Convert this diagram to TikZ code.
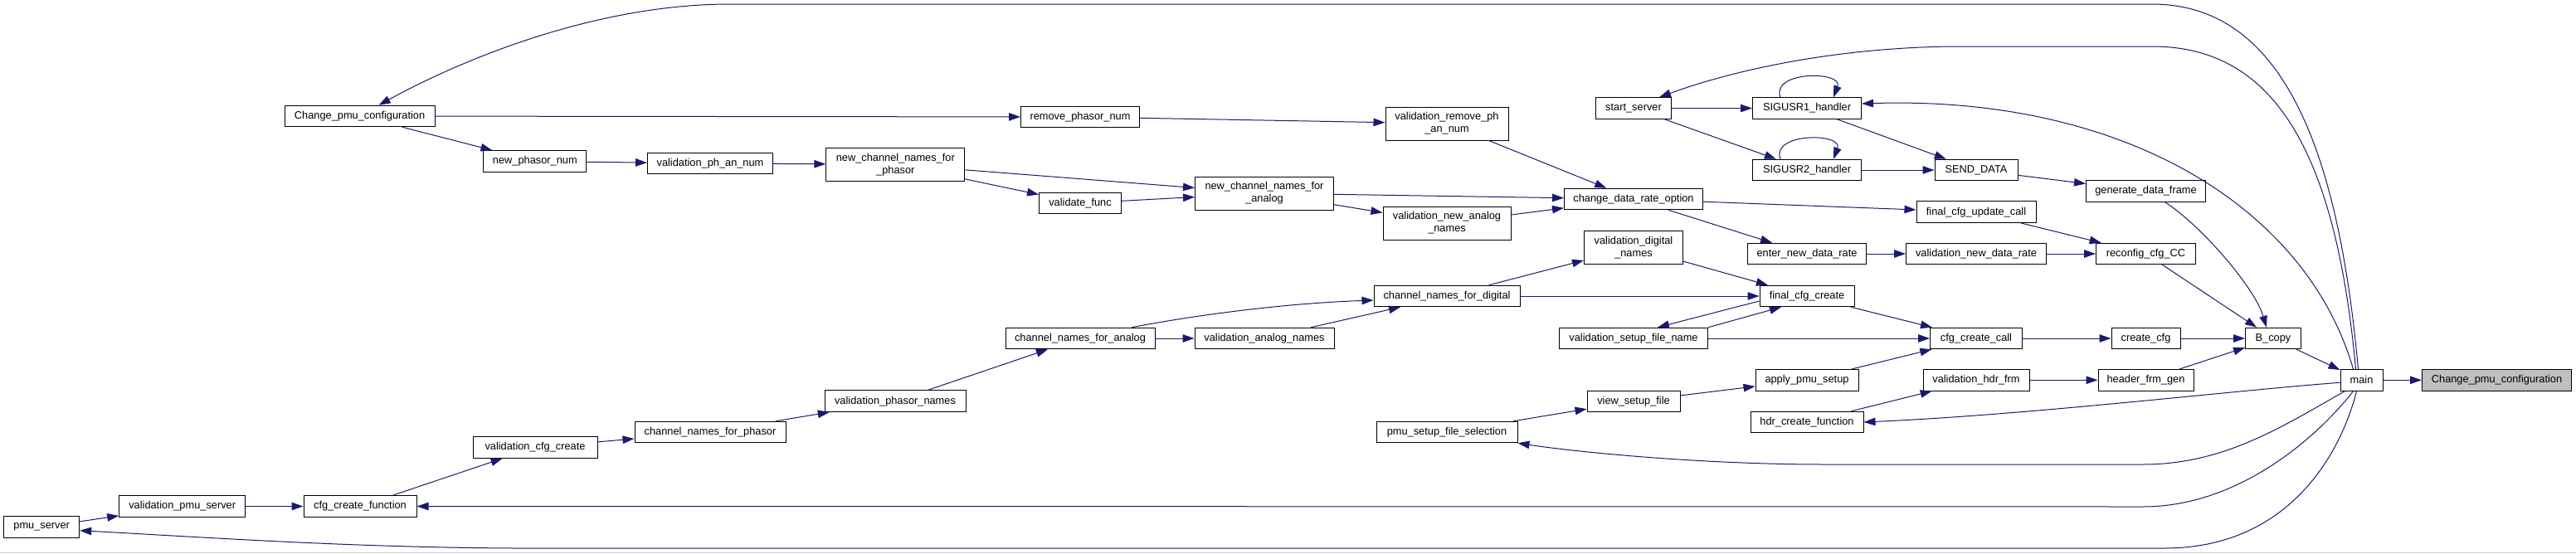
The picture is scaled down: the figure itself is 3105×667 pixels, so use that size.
\documentclass[tikz,border=0pt]{standalone}
\usepackage{fontspec}
\setmainfont{Liberation Sans}
\usepackage{xcolor}
\usepackage{tikz}
\usetikzlibrary{arrows.meta, positioning, calc}

\definecolor{edgeblue}{HTML}{191970}
\definecolor{targetgray}{HTML}{BFBFBF}
\newcommand\fnfont{\fontsize{12.8}{15}\selectfont}

\begin{document}
\begin{tikzpicture}[
    x=1pt, y=-1pt,
    fnbox/.style={rectangle, draw=black, line width=1pt, fill=white,
                  inner sep=0pt, minimum height=25.5pt, font=\fnfont, align=center},
    fnboxtwo/.style={fnbox, minimum height=40pt},
    callarr/.style={draw=edgeblue, line width=1pt, -{Triangle[length=14pt,width=9.5pt]}},
]
\useasboundingbox (0,0) rectangle (3105,667);

% right part: main and the target
\node[fnbox, minimum width=51pt] (main) at (2846.5,458.3) {main};
\node[fnbox, minimum width=180pt, fill=targetgray] (target) at (3009.5,458.3) {Change\_pmu\_configuration};
\node[fnbox, minimum width=67pt] (bcopy) at (2740,408) {B\_copy};

\node[fnbox, minimum width=144pt] (genframe) at (2586.5,230.5) {generate\_data\_frame};
\node[fnbox, minimum width=120pt] (reconfig) at (2586.5,306) {reconfig\_cfg\_CC};
\node[fnbox, minimum width=83pt] (createcfg) at (2586.5,408) {create\_cfg};
\node[fnbox, minimum width=115pt] (hdrgen) at (2586.5,458.3) {header\_frm\_gen};

\node[fnbox, minimum width=100pt] (senddata) at (2382,205) {SEND\_DATA};
\node[fnbox, minimum width=144pt] (cfgupdate) at (2382,255.7) {final\_cfg\_update\_call};
\node[fnbox, minimum width=169pt] (valnewrate) at (2382,306) {validation\_new\_data\_rate};
\node[fnbox, minimum width=111pt] (createcall) at (2382,408) {cfg\_create\_call};
\node[fnbox, minimum width=128pt] (valhdr) at (2382,458.3) {validation\_hdr\_frm};

\node[fnbox, minimum width=131pt] (sigone) at (2178,130.5) {SIGUSR1\_handler};
\node[fnbox, minimum width=131pt] (sigtwo) at (2178,205) {SIGUSR2\_handler};
\node[fnbox, minimum width=143pt] (enterrate) at (2178,306) {enter\_new\_data\_rate};
\node[fnbox, minimum width=114pt] (finalcreate) at (2178,357) {final\_cfg\_create};
\node[fnbox, minimum width=124pt] (applysetup) at (2178,458.3) {apply\_pmu\_setup};
\node[fnbox, minimum width=136pt] (hdrfunc) at (2178,509) {hdr\_create\_function};

\node[fnbox, minimum width=91pt] (startserver) at (1969,130.5) {start\_server};
\node[fnbox, minimum width=167pt] (changerate) at (1969,240) {change\_data\_rate\_option};
\node[fnboxtwo, minimum width=119pt] (valdigital) at (1969,298.3) {validation\_digital\\\_names};
\node[fnbox, minimum width=179pt] (valsetup) at (1969,408) {validation\_setup\_file\_name};
\node[fnbox, minimum width=112pt] (viewsetup) at (1969,483.8) {view\_setup\_file};

\node[fnboxtwo, minimum width=148pt] (valremove) at (1744,149) {validation\_remove\_ph\\\_an\_num};
\node[fnboxtwo, minimum width=154pt] (valnewanalog) at (1744,269) {validation\_new\_analog\\\_names};
\node[fnbox, minimum width=176pt] (chdigital) at (1744,357) {channel\_names\_for\_digital};
\node[fnbox, minimum width=170pt] (setupsel) at (1744,521) {pmu\_setup\_file\_selection};

\node[fnboxtwo, minimum width=167pt] (newchanalog) at (1524,233) {new\_channel\_names\_for\\\_analog};
\node[fnbox, minimum width=168pt] (valanalog) at (1524,408) {validation\_analog\_names};

\node[fnbox, minimum width=143pt] (removephasor) at (1302,141) {remove\_phasor\_num};
\node[fnbox, minimum width=99pt] (validatefunc) at (1302,245) {validate\_func};
\node[fnbox, minimum width=180pt] (chanalog) at (1302,408) {channel\_names\_for\_analog};

\node[fnboxtwo, minimum width=167pt] (newchphasor) at (1079.3,198.3) {new\_channel\_names\_for\\\_phasor};
\node[fnbox, minimum width=170pt] (valphnames) at (1079,483.7) {validation\_phasor\_names};

\node[fnbox, minimum width=151pt] (valphan) at (856,197) {validation\_ph\_an\_num};
\node[fnbox, minimum width=182pt] (chphasor) at (856,521) {channel\_names\_for\_phasor};

\node[fnbox, minimum width=124pt] (newphasor) at (644.8,194.5) {new\_phasor\_num};
\node[fnbox, minimum width=150pt] (valcfg) at (645,539.5) {validation\_cfg\_create};

\node[fnbox, minimum width=181pt] (changecfg) at (433.6,140) {Change\_pmu\_configuration};
\node[fnbox, minimum width=136pt] (cfgfunc) at (434,610.5) {cfg\_create\_function};
\node[fnbox, minimum width=152pt] (valpmu) at (219.7,610.5) {validation\_pmu\_server};
\node[fnbox, minimum width=91pt] (pmuserver) at (50.2,635.7) {pmu\_server};

% straight calls
\draw[callarr] (main) -- (target);
\draw[callarr] (bcopy) -- (main);
\draw[callarr] (reconfig) -- (bcopy);
\draw[callarr] (createcfg) -- (bcopy);
\draw[callarr] (hdrgen) -- (bcopy);
\draw[callarr] (createcall) -- (createcfg);
\draw[callarr] (valhdr) -- (hdrgen);
\draw[callarr] (hdrfunc) -- (valhdr);
\draw[callarr] (finalcreate) -- (createcall);
\draw[callarr] (valsetup) -- (createcall);
\draw[callarr] (applysetup) -- (createcall);
\draw[callarr] (viewsetup) -- (applysetup);
\draw[callarr] (setupsel) -- (viewsetup);
\draw[callarr] (enterrate) -- (valnewrate);
\draw[callarr] (valnewrate) -- (reconfig);
\draw[callarr] (cfgupdate) -- (reconfig);
\draw[callarr] (changerate) -- (cfgupdate);
\draw[callarr] (changerate) -- (enterrate);
\draw[callarr] (senddata) -- (genframe);
\draw[callarr] (sigone) -- (senddata);
\draw[callarr] (sigtwo) -- (senddata);
\draw[callarr] (startserver) -- (sigone);
\draw[callarr] (startserver) -- (sigtwo);
\draw[callarr] (valremove) -- (changerate);
\draw[callarr] (newchanalog) -- (changerate);
\draw[callarr] (newchanalog) -- (valnewanalog);
\draw[callarr] (valnewanalog) -- (changerate);
\draw[callarr] (removephasor) -- (valremove);
\draw[callarr] (changecfg) -- (removephasor);
\draw[callarr] (changecfg) -- (newphasor);
\draw[callarr] (newphasor) -- (valphan);
\draw[callarr] (valphan) -- (newchphasor);
\draw[callarr] (newchphasor) -- (newchanalog);
\draw[callarr] (newchphasor) -- (validatefunc);
\draw[callarr] (validatefunc) -- (newchanalog);
\draw[callarr] (chdigital) -- (valdigital);
\draw[callarr] (valdigital) -- (finalcreate);
\draw[callarr] (chdigital) -- (finalcreate);
\draw[callarr] ([yshift=-6pt]finalcreate.west) -- ([xshift=29pt]valsetup.north);
\draw[callarr] (valsetup.north east) -- ([xshift=-31pt]finalcreate.south);
\draw[callarr] (chanalog) -- (valanalog);
\draw[callarr] ([xshift=56pt]valanalog.north) -- ([xshift=-56pt]chdigital.south);
\draw[callarr] (valphnames) -- (chanalog);
\draw[callarr] (chphasor) -- (valphnames);
\draw[callarr] (valcfg) -- (chphasor);
\draw[callarr] (cfgfunc) -- (valcfg);
\draw[callarr] (valpmu) -- (cfgfunc);
\draw[callarr] (pmuserver) -- (valpmu);

% curved calls
\draw[callarr] ([xshift=23pt]genframe.south) .. controls +(40,25) and +(-15,-50) .. ([xshift=-8pt]bcopy.north);
\draw[callarr] ([xshift=62pt]chanalog.north) .. controls (1430,382) and (1540,366) .. ([yshift=-5pt]chdigital.west);
\draw[callarr] ([xshift=-32pt]sigone.north) .. controls +(-12,-32) and +(12,-32) .. ([xshift=32pt]sigone.north);
\draw[callarr] ([xshift=-32pt]sigtwo.north) .. controls +(-12,-32) and +(12,-32) .. ([xshift=32pt]sigtwo.north);

% calls from main round the outside
\draw[callarr] ([xshift=-4pt]main.north) .. controls (2820,200) and (2760,5) .. (2594,5)
    -- (880,5) .. controls (720,5) and (560,70) .. ([xshift=23pt]changecfg.north);
\draw[callarr] ([xshift=-7pt]main.north) .. controls (2815,180) and (2740,56) .. (2594,56)
    -- (2353,56) .. controls (2200,58) and (2080,88) .. ([xshift=31pt]startserver.north);
\draw[callarr] ([xshift=-10pt]main.north) .. controls (2780,250) and (2560,115) .. ([yshift=5.5pt]sigone.east);
\draw[callarr] ([yshift=-3pt]main.west) .. controls (2700,470) and (2450,500) .. (hdrfunc.east);
\draw[callarr] ([xshift=-20pt]main.south) .. controls (2750,515) and (2680,560) .. (2583,560)
    -- (2200,560) .. controls (2050,560) and (1900,545) .. (setupsel.south east);
\draw[callarr] ([xshift=-10pt]main.south) .. controls (2795,525) and (2700,611) .. (2583,611)
    -- (cfgfunc.east);
\draw[callarr] ([xshift=-6pt]main.south) .. controls (2822,545) and (2760,661) .. (2609,661)
    -- (620,661) .. controls (420,660) and (250,648) .. ([yshift=-4pt]pmuserver.east);

\draw[gray!40, line width=1pt] (0,666) -- (3105,666);
\end{tikzpicture}
\end{document}
